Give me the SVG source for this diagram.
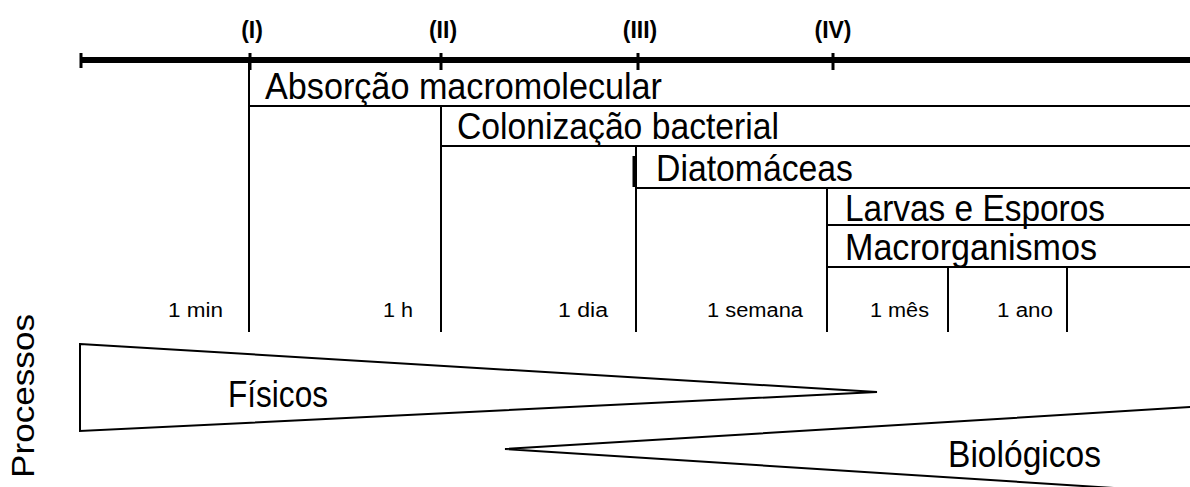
<svg xmlns="http://www.w3.org/2000/svg" width="1190" height="487" viewBox="0 0 1190 487">
  <style>
    .big { font-family: "Liberation Sans Narrow", "Liberation Sans", Arial, sans-serif; font-size: 37px; fill: #000; }
    .phase { font-family: "Liberation Sans Narrow", "Liberation Sans", Arial, sans-serif; font-size: 23px; font-weight: bold; fill: #000; text-anchor: middle; }
    .time { font-family: "Liberation Sans", Arial, sans-serif; font-size: 20px; fill: #000; text-anchor: end; }
    .ln { stroke: #000; stroke-width: 2; fill: none; }
    .tick { stroke: #000; stroke-width: 3; }
    .tri { stroke: #000; stroke-width: 2; fill: #fff; stroke-linejoin: miter; }
  </style>
  <rect width="1190" height="487" fill="#fff"/>

  <g id="axis">
    <line x1="80" y1="60" x2="1190" y2="60" stroke="#000" stroke-width="6"/>
    <line class="tick" x1="81" y1="53" x2="81" y2="68"/>
    <line class="tick" x1="250" y1="53" x2="250" y2="70"/>
    <line class="tick" x1="441" y1="53" x2="441" y2="70"/>
    <line class="tick" x1="638" y1="53" x2="638" y2="70"/>
    <line class="tick" x1="833" y1="53" x2="833" y2="70"/>
  </g>

  <g id="phase-I"><text class="phase" x="252" y="38">(I)</text></g>
  <g id="phase-II"><text class="phase" x="443" y="38">(II)</text></g>
  <g id="phase-III"><text class="phase" x="640" y="38">(III)</text></g>
  <g id="phase-IV"><text class="phase" x="833" y="38">(IV)</text></g>

  <g id="connectors">
    <line class="ln" x1="249" y1="60" x2="249" y2="332"/>
    <line class="ln" x1="441" y1="106" x2="441" y2="332"/>
    <line class="ln" x1="636" y1="146" x2="636" y2="332"/>
    <line x1="634" y1="156" x2="634" y2="187" stroke="#000" stroke-width="3"/>
    <line class="ln" x1="827" y1="188" x2="827" y2="332"/>
    <line class="ln" x1="948" y1="267" x2="948" y2="332"/>
    <line class="ln" x1="1067" y1="267" x2="1067" y2="332"/>
    <line class="ln" x1="249" y1="106" x2="1190" y2="106"/>
    <line class="ln" x1="441" y1="146" x2="1190" y2="146"/>
    <line class="ln" x1="636" y1="188" x2="1190" y2="188"/>
    <line class="ln" x1="827" y1="225" x2="1190" y2="225"/>
    <line class="ln" x1="827" y1="267" x2="1190" y2="267"/>
  </g>

  <g id="absorcao"><text class="big" x="265" y="99" textLength="397" lengthAdjust="spacingAndGlyphs">Absorção macromolecular</text></g>
  <g id="colonizacao"><text class="big" x="457" y="139" textLength="322" lengthAdjust="spacingAndGlyphs">Colonização bacterial</text></g>
  <g id="diatomaceas"><text class="big" x="656" y="181" textLength="197" lengthAdjust="spacingAndGlyphs">Diatomáceas</text></g>
  <g id="larvas"><text class="big" x="845" y="221" textLength="260" lengthAdjust="spacingAndGlyphs">Larvas e Esporos</text></g>
  <g id="macrorganismos"><text class="big" x="845" y="260" textLength="252" lengthAdjust="spacingAndGlyphs">Macrorganismos</text></g>

  <g id="time-labels">
    <text class="time" x="223" y="317" textLength="55" lengthAdjust="spacingAndGlyphs">1 min</text>
    <text class="time" x="413" y="317" textLength="30" lengthAdjust="spacingAndGlyphs">1 h</text>
    <text class="time" x="608" y="317" textLength="50" lengthAdjust="spacingAndGlyphs">1 dia</text>
    <text class="time" x="803" y="317" textLength="96" lengthAdjust="spacingAndGlyphs">1 semana</text>
    <text class="time" x="929" y="317" textLength="59" lengthAdjust="spacingAndGlyphs">1 mês</text>
    <text class="time" x="1053" y="317" textLength="56" lengthAdjust="spacingAndGlyphs">1 ano</text>
  </g>

  <g id="processos">
    <text transform="translate(34,478) rotate(-90)" font-family="Liberation Sans, Arial, sans-serif" font-size="32" textLength="164" lengthAdjust="spacingAndGlyphs">Processos</text>
  </g>

  <g id="fisicos">
    <polygon class="tri" points="80,344 877,392 80,431"/>
    <text class="big" x="228" y="407" textLength="100" lengthAdjust="spacingAndGlyphs">Físicos</text>
  </g>

  <g id="biologicos">
    <polygon class="tri" points="1192,407 505,449 1192,493"/>
    <text class="big" x="948" y="467" textLength="153" lengthAdjust="spacingAndGlyphs">Biológicos</text>
  </g>
</svg>
